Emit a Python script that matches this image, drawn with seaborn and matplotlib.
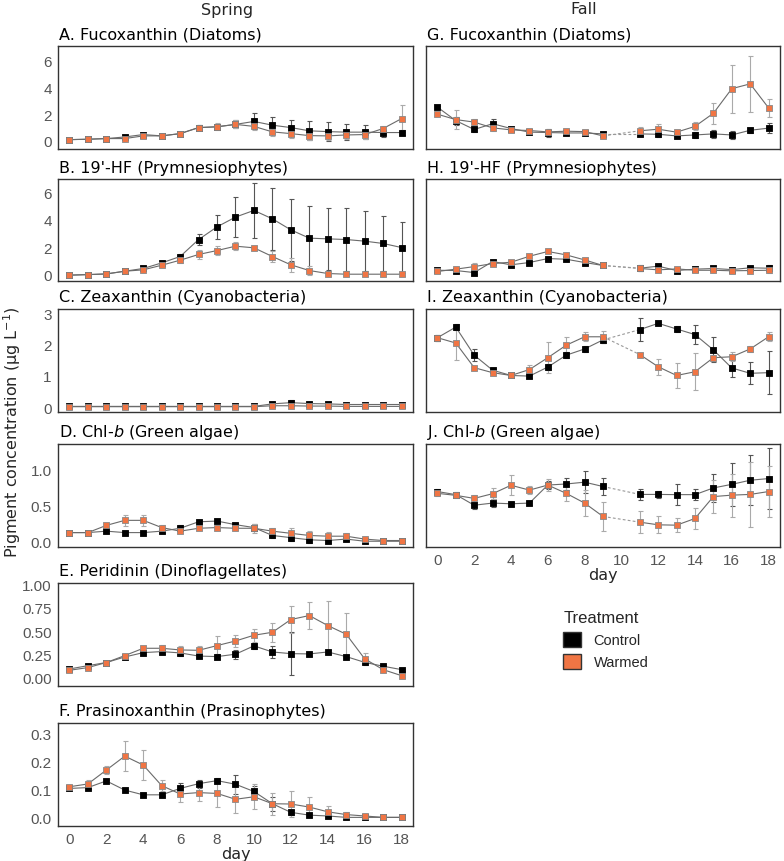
# Pigment time series, Spring vs Fall mesocosm (Control vs Warmed)
import numpy as np
import pandas as pd
import matplotlib
matplotlib.use("Agg")
import matplotlib.pyplot as plt
import seaborn as sns
from matplotlib.patches import Patch

# ---- data (means and SDs) ----
spring_days = list(range(19))
fall_days = [0, 1, 2, 3, 4, 5, 6, 7, 8, 9, 11, 12, 13, 14, 15, 16, 17, 18]
fall_gap_day = 9  # last day before the missing day 10

# A. Fucoxanthin (spring)
a_ctrl = [0.1, 0.13, 0.18, 0.3, 0.48, 0.38, 0.55, 1.0, 1.06, 1.24, 1.46, 1.18, 1.0, 0.76, 0.7, 0.66, 0.66, 0.63, 0.63]
a_ctrl_sd = [0.05, 0.05, 0.05, 0.1, 0.1, 0.1, 0.1, 0.2, 0.2, 0.3, 0.6, 0.6, 0.6, 0.7, 0.7, 0.6, 0.5, 0.3, 0.2]
a_warm = [0.1, 0.13, 0.18, 0.18, 0.38, 0.38, 0.55, 1.0, 1.06, 1.24, 1.09, 0.68, 0.55, 0.4, 0.38, 0.45, 0.48, 0.93, 1.67]
a_warm_sd = [0.05, 0.05, 0.05, 0.08, 0.1, 0.1, 0.1, 0.2, 0.25, 0.3, 0.3, 0.3, 0.3, 0.3, 0.3, 0.3, 0.3, 0.2, 1.0]

# B. 19'-HF (spring)
b_ctrl = [-0.07, -0.03, 0.02, 0.22, 0.42, 0.83, 1.3, 2.55, 3.48, 4.2, 4.69, 4.07, 3.26, 2.65, 2.6, 2.55, 2.43, 2.26, 1.96]
b_ctrl_sd = [0.05, 0.05, 0.05, 0.05, 0.1, 0.1, 0.15, 0.4, 0.9, 1.5, 2.0, 2.3, 2.3, 2.4, 2.3, 2.3, 2.2, 2.0, 1.85]
b_warm = [-0.07, -0.03, 0.02, 0.22, 0.32, 0.66, 1.03, 1.45, 1.74, 2.06, 1.94, 1.3, 0.69, 0.27, 0.05, 0.0, 0.0, 0.0, 0.0]
b_warm_sd = [0.05, 0.05, 0.05, 0.05, 0.1, 0.15, 0.2, 0.3, 0.3, 0.3, 0.15, 0.4, 0.5, 0.3, 0.15, 0.1, 0.1, 0.1, 0.1]

# C. Zeaxanthin (spring)
c_ctrl = [0.02, 0.02, 0.02, 0.02, 0.02, 0.02, 0.02, 0.02, 0.02, 0.02, 0.02, 0.1, 0.14, 0.11, 0.1, 0.08, 0.08, 0.08, 0.08]
c_ctrl_sd = [0.02, 0.02, 0.02, 0.02, 0.02, 0.02, 0.02, 0.02, 0.02, 0.02, 0.02, 0.05, 0.08, 0.06, 0.05, 0.04, 0.03, 0.03, 0.03]
c_warm = [0.01, 0.01, 0.01, 0.01, 0.01, 0.01, 0.01, 0.01, 0.01, 0.01, 0.01, 0.04, 0.04, 0.03, 0.03, 0.02, 0.02, 0.02, 0.02]
c_warm_sd = [0.02, 0.02, 0.02, 0.02, 0.02, 0.02, 0.02, 0.02, 0.02, 0.02, 0.02, 0.02, 0.02, 0.02, 0.02, 0.02, 0.02, 0.02, 0.02]

# D. Chl-b (spring)
d_ctrl = [0.12, 0.12, 0.14, 0.12, 0.12, 0.14, 0.18, 0.27, 0.28, 0.23, 0.19, 0.08, 0.05, 0.02, 0.01, 0.03, 0.0, 0.0, 0.0]
d_ctrl_sd = [0.01, 0.01, 0.02, 0.02, 0.02, 0.02, 0.04, 0.02, 0.02, 0.03, 0.05, 0.03, 0.04, 0.04, 0.03, 0.03, 0.01, 0.01, 0.01]
d_warm = [0.12, 0.12, 0.22, 0.29, 0.29, 0.19, 0.14, 0.18, 0.19, 0.18, 0.18, 0.14, 0.11, 0.08, 0.07, 0.07, 0.03, 0.01, 0.01]
d_warm_sd = [0.01, 0.01, 0.03, 0.08, 0.08, 0.03, 0.02, 0.03, 0.03, 0.03, 0.06, 0.05, 0.07, 0.06, 0.06, 0.05, 0.02, 0.01, 0.01]

# E. Peridinin (spring)
e_ctrl = [0.09, 0.126, 0.16, 0.22, 0.267, 0.278, 0.264, 0.23, 0.224, 0.25, 0.34, 0.274, 0.256, 0.253, 0.274, 0.224, 0.162, 0.12, 0.083]
e_ctrl_sd = [0.01, 0.01, 0.01, 0.02, 0.02, 0.03, 0.03, 0.02, 0.03, 0.05, 0.03, 0.07, 0.23, 0.02, 0.02, 0.02, 0.03, 0.01, 0.01]
e_warm = [0.076, 0.105, 0.16, 0.235, 0.314, 0.314, 0.296, 0.292, 0.343, 0.393, 0.455, 0.487, 0.625, 0.668, 0.56, 0.466, 0.2, 0.083, 0.018]
e_warm_sd = [0.01, 0.01, 0.01, 0.02, 0.03, 0.04, 0.04, 0.05, 0.1, 0.06, 0.07, 0.1, 0.15, 0.15, 0.26, 0.23, 0.06, 0.02, 0.01]

# F. Prasinoxanthin (spring)
f_ctrl = [0.104, 0.107, 0.131, 0.098, 0.081, 0.081, 0.104, 0.121, 0.132, 0.119, 0.093, 0.049, 0.018, 0.008, 0.005, 0.0, 0.0, 0.0, 0.0]
f_ctrl_sd = [0.005, 0.005, 0.005, 0.005, 0.005, 0.005, 0.02, 0.015, 0.01, 0.035, 0.02, 0.025, 0.01, 0.005, 0.005, 0.003, 0.003, 0.002, 0.002]
f_warm = [0.11, 0.12, 0.17, 0.22, 0.188, 0.114, 0.084, 0.089, 0.086, 0.065, 0.074, 0.049, 0.048, 0.037, 0.02, 0.01, 0.005, 0.0, 0.0]
f_warm_sd = [0.005, 0.015, 0.015, 0.055, 0.055, 0.02, 0.03, 0.03, 0.05, 0.05, 0.045, 0.04, 0.045, 0.035, 0.02, 0.01, 0.005, 0.002, 0.002]

# G. Fucoxanthin (fall)
g_ctrl = [2.53, 1.52, 0.86, 1.29, 0.93, 0.66, 0.63, 0.6, 0.6, 0.53, 0.53, 0.5, 0.38, 0.45, 0.53, 0.45, 0.8, 0.96]
g_ctrl_sd = [0.1, 0.3, 0.2, 0.35, 0.15, 0.15, 0.3, 0.15, 0.15, 0.1, 0.15, 0.2, 0.15, 0.2, 0.3, 0.3, 0.2, 0.4]
g_warm = [2.0, 1.6, 1.41, 0.98, 0.83, 0.78, 0.68, 0.73, 0.7, 0.38, 0.76, 0.88, 0.66, 1.09, 2.07, 3.91, 4.27, 2.47]
g_warm_sd = [0.1, 0.7, 0.2, 0.2, 0.15, 0.15, 0.15, 0.15, 0.15, 0.15, 0.3, 0.4, 0.15, 0.3, 0.8, 1.8, 2.1, 0.7]

# H. 19'-HF (fall)
h_ctrl = [0.29, 0.27, 0.12, 0.93, 0.69, 0.86, 1.15, 1.1, 0.86, 0.64, 0.44, 0.59, 0.27, 0.37, 0.42, 0.34, 0.47, 0.44]
h_ctrl_sd = [0.1, 0.15, 0.1, 0.1, 0.1, 0.1, 0.1, 0.1, 0.1, 0.1, 0.2, 0.15, 0.1, 0.1, 0.1, 0.15, 0.15, 0.2]
h_warm = [0.2, 0.37, 0.56, 0.78, 0.88, 1.32, 1.67, 1.42, 1.05, 0.64, 0.42, 0.32, 0.39, 0.29, 0.29, 0.25, 0.27, 0.29]
h_warm_sd = [0.1, 0.15, 0.3, 0.15, 0.2, 0.1, 0.1, 0.15, 0.15, 0.1, 0.2, 0.15, 0.15, 0.1, 0.15, 0.1, 0.1, 0.2]

# I. Zeaxanthin (fall)
i_ctrl = [2.22, 2.56, 1.66, 1.18, 1.01, 0.99, 1.28, 1.66, 1.86, 2.15, 2.48, 2.68, 2.5, 2.32, 1.83, 1.25, 1.08, 1.1]
i_ctrl_sd = [0.1, 0.1, 0.2, 0.05, 0.05, 0.05, 0.1, 0.1, 0.1, 0.1, 0.38, 0.05, 0.1, 0.3, 0.4, 0.3, 0.35, 0.68]
i_warm = [2.22, 2.05, 1.26, 1.1, 1.01, 1.2, 1.58, 1.98, 2.25, 2.25, 1.68, 1.29, 1.01, 1.13, 1.58, 1.61, 1.86, 2.25]
i_warm_sd = [0.1, 0.55, 0.05, 0.05, 0.05, 0.15, 0.5, 0.25, 0.15, 0.2, 0.05, 0.25, 0.4, 0.6, 0.1, 0.15, 0.1, 0.15]

# J. Chl-b (fall)
j_ctrl = [0.69, 0.647, 0.5, 0.53, 0.52, 0.53, 0.78, 0.795, 0.82, 0.76, 0.65, 0.65, 0.647, 0.647, 0.74, 0.79, 0.847, 0.87]
j_ctrl_sd = [0.03, 0.03, 0.05, 0.05, 0.03, 0.03, 0.06, 0.08, 0.15, 0.12, 0.08, 0.05, 0.15, 0.08, 0.2, 0.3, 0.35, 0.42]
j_warm = [0.665, 0.637, 0.595, 0.66, 0.777, 0.71, 0.78, 0.665, 0.53, 0.344, 0.265, 0.228, 0.223, 0.316, 0.62, 0.64, 0.65, 0.69]
j_warm_sd = [0.03, 0.03, 0.05, 0.08, 0.14, 0.05, 0.08, 0.1, 0.18, 0.2, 0.15, 0.12, 0.1, 0.15, 0.23, 0.3, 0.45, 0.35]

treatments = ["Control", "Warmed"]
ctrl_color = "black"
warm_color = "#F07544"

# ---- style ----
sns.set_style("white")
plt.rcParams["font.family"] = ["DejaVu Sans"]
tick_font = "Liberation Sans"

fig = plt.figure(figsize=(7.84, 8.62), dpi=100)
W, H = 784, 862


def px_axes(x0, y0, x1, y1):
    return fig.add_axes([x0 / W, 1 - y1 / H, (x1 - x0) / W, (y1 - y0) / H])


def draw_series(ax, days, mean, sd, face, edge, ecol, gap=None):
    days = np.array(days)
    mean = np.array(mean)
    ax.errorbar(days, mean, yerr=sd, fmt="none", ecolor=ecol, elinewidth=0.8,
                capsize=1.8, capthick=0.8, zorder=2)
    df = pd.DataFrame({"day": days, "value": mean})
    if gap is None:
        segs = [df]
    else:
        segs = [df[df.day <= gap], df[df.day > gap]]
        k = int(np.where(days == gap)[0][0])
        ax.plot(days[k:k + 2], mean[k:k + 2], ls=(0, (2.5, 2)), color="#999999",
                lw=0.8, zorder=2)
    for seg in segs:
        sns.lineplot(data=seg, x="day", y="value", color="#6a6a6a", linewidth=0.8,
                     estimator=None, sort=False, ax=ax, zorder=3)
    sns.scatterplot(data=df, x="day", y="value", marker="s", s=17, color=face,
                    edgecolor=edge, linewidth=0.6, ax=ax, zorder=4, legend=False)


def style_ax(ax, title, ylim, yticks, ylabels, xlabels):
    ax.set_xlim(-0.62, 18.62)
    ax.set_ylim(*ylim)
    ax.set_xticks(range(19))
    if xlabels:
        ax.set_xticklabels([str(d) if d % 2 == 0 else "" for d in range(19)])
    else:
        ax.set_xticklabels([])
    ax.set_yticks(yticks)
    ax.set_yticklabels(ylabels if ylabels else [])
    ax.set_xlabel("")
    ax.set_ylabel("")
    ax.tick_params(axis="both", direction="out", length=3, width=0.6, color="#555555",
                   labelsize=11, labelcolor="#555555", pad=1.5)
    for lab in ax.get_xticklabels() + ax.get_yticklabels():
        lab.set_fontfamily(tick_font)
    for sp in ax.spines.values():
        sp.set_color("#333333")
        sp.set_linewidth(1.0)
    ax.text(0.003, 1.0 + 12 / 103, title, transform=ax.transAxes, ha="left",
            va="center", fontsize=11.5, color="black")


panels = [
    # (title, box, days, ctrl, ctrl_sd, warm, warm_sd, ylim, yticks, ylabels, xlabels, gap)
    ("A. Fucoxanthin (Diatoms)", (58, 47, 413, 150), spring_days, a_ctrl, a_ctrl_sd, a_warm, a_warm_sd,
     (-0.6, 7.1), [0, 2, 4, 6], ["0", "2", "4", "6"], False, None),
    ("B. 19'-HF (Prymnesiophytes)", (58, 180, 413, 282), spring_days, b_ctrl, b_ctrl_sd, b_warm, b_warm_sd,
     (-0.5, 7.0), [0, 2, 4, 6], ["0", "2", "4", "6"], False, None),
    ("C. Zeaxanthin (Cyanobacteria)", (58, 310, 413, 413), spring_days, c_ctrl, c_ctrl_sd, c_warm, c_warm_sd,
     (-0.16, 3.14), [0, 1, 2, 3], ["0", "1", "2", "3"], False, None),
    ("D. Chl-$\\it{b}$ (Green algae)", (58, 445, 413, 548), spring_days, d_ctrl, d_ctrl_sd, d_warm, d_warm_sd,
     (-0.08, 1.35), [0, 0.5, 1.0], ["0.0", "0.5", "1.0"], False, None),
    ("E. Peridinin (Dinoflagellates)", (58, 584, 413, 687), spring_days, e_ctrl, e_ctrl_sd, e_warm, e_warm_sd,
     (-0.094, 1.02), [0, 0.25, 0.5, 0.75, 1.0], ["0.00", "0.25", "0.50", "0.75", "1.00"], False, None),
    ("F. Prasinoxanthin (Prasinophytes)", (58, 724, 413, 827), spring_days, f_ctrl, f_ctrl_sd, f_warm, f_warm_sd,
     (-0.031, 0.339), [0, 0.1, 0.2, 0.3], ["0.0", "0.1", "0.2", "0.3"], True, None),
    ("G. Fucoxanthin (Diatoms)", (426, 47, 780, 150), fall_days, g_ctrl, g_ctrl_sd, g_warm, g_warm_sd,
     (-0.6, 7.1), [0, 2, 4, 6], None, False, fall_gap_day),
    ("H. 19'-HF (Prymnesiophytes)", (426, 180, 780, 282), fall_days, h_ctrl, h_ctrl_sd, h_warm, h_warm_sd,
     (-0.5, 7.0), [0, 2, 4, 6], None, False, fall_gap_day),
    ("I. Zeaxanthin (Cyanobacteria)", (426, 310, 780, 413), fall_days, i_ctrl, i_ctrl_sd, i_warm, i_warm_sd,
     (-0.16, 3.14), [0, 1, 2, 3], None, False, fall_gap_day),
    ("J. Chl-$\\it{b}$ (Green algae)", (426, 445, 780, 548), fall_days, j_ctrl, j_ctrl_sd, j_warm, j_warm_sd,
     (-0.08, 1.35), [0, 0.5, 1.0], None, True, fall_gap_day),
]

for (title, box, days, c, c_sd, w, w_sd, ylim, yticks, ylabels, xlabels, gap) in panels:
    ax = px_axes(*box)
    draw_series(ax, days, c, c_sd, ctrl_color, "black", "#555555", gap)
    draw_series(ax, days, w, w_sd, warm_color, "#8a8a8a", "#aaaaaa", gap)
    style_ax(ax, title, ylim, yticks, ylabels, xlabels)
    if xlabels:
        ax.set_xlabel("day", fontsize=11.5, labelpad=0)

# column headers and shared y label
fig.text(227 / W, 1 - 10 / H, "Spring", ha="center", va="center", fontsize=11.5)
fig.text(584 / W, 1 - 10 / H, "Fall", ha="center", va="center", fontsize=11.5)
fig.text(12 / W, 1 - 432 / H, "Pigment concentration (μg L$^{-1}$)", rotation=90,
         ha="center", va="center", fontsize=11.5)

# legend
handles = [Patch(facecolor=ctrl_color, edgecolor="#333333"),
           Patch(facecolor=warm_color, edgecolor="#333333")]
leg = fig.legend(handles=handles, labels=treatments, title="Treatment",
                 loc="upper left", bbox_to_anchor=(550 / W, 1 - 598 / H), frameon=False,
                 handlelength=1.2, handleheight=1.2, handletextpad=0.9, labelspacing=0.45,
                 prop={"family": tick_font, "size": 10.5},
                 title_fontproperties={"family": tick_font, "size": 12})
leg._legend_box.align = "left"

fig.savefig("out.png", dpi=100)
